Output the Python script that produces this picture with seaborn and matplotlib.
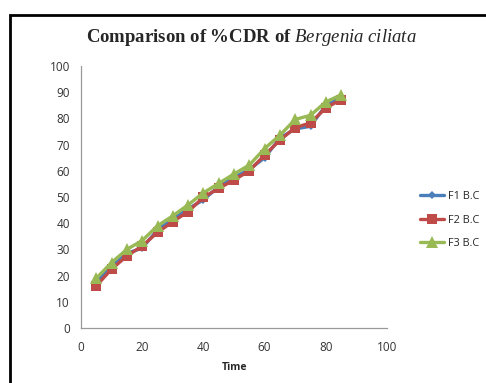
import pandas as pd
import matplotlib
matplotlib.use('Agg')
from matplotlib import pyplot as plt
from matplotlib.patches import Rectangle
import seaborn as sns

# 数据: 时间 与 三个配方的 %CDR
time = [5, 10, 15, 20, 25, 30, 35, 40, 45, 50, 55, 60, 65, 70, 75, 80, 85]
f1_bc = [17.5, 23.5, 28.5, 30.5, 37.5, 41.5, 45.5, 48.9, 54, 57.5, 60.5, 65, 72.5, 76, 77, 85, 88]
f2_bc = [16.1, 22.5, 27.5, 31.3, 36.5, 40.6, 44.4, 49.9, 53.3, 56.5, 60, 66, 71.7, 76.5, 78.3, 84, 87.2]
f3_bc = [19, 25, 30, 33.4, 39, 42.8, 47, 51.6, 55.2, 58.8, 62.2, 68.5, 73.6, 79.6, 81.2, 86.3, 89]
series_names = ['F1 B.C', 'F2 B.C', 'F3 B.C']

# 长表
df = pd.concat([
    pd.DataFrame({'Time': time, 'CDR': vals, 'series': name})
    for name, vals in zip(series_names, [f1_bc, f2_bc, f3_bc])
])

sns.set_style('white')
plt.rcParams['font.family'] = ['Open Sans', 'DejaVu Sans']
plt.rcParams['mathtext.fontset'] = 'custom'
plt.rcParams['mathtext.it'] = 'Liberation Serif:italic'
plt.rcParams['mathtext.rm'] = 'Liberation Serif'

fig = plt.figure(figsize=(4.86, 3.83), dpi=100)
ax = fig.add_axes([0.1667, 0.1436, 0.6296, 0.684])

palette = {'F1 B.C': '#4A7EBB', 'F2 B.C': '#BE4B48', 'F3 B.C': '#98B954'}
markers = {'F1 B.C': 'D', 'F2 B.C': 's', 'F3 B.C': '^'}
sizes = {'F1 B.C': 4.5, 'F2 B.C': 7.5, 'F3 B.C': 8.5}

for name in series_names:
    sns.lineplot(data=df[df['series'] == name], x='Time', y='CDR', ax=ax,
                 color=palette[name], marker=markers[name], markersize=sizes[name],
                 markeredgewidth=0, linewidth=2.4, label=name)

ax.set_xlim(0, 100)
ax.set_ylim(0, 100)
ax.set_xticks(range(0, 101, 20))
ax.set_yticks(range(0, 101, 10))
ax.tick_params(axis='both', length=0, labelsize=8.5, colors='#333333')
ax.tick_params(axis='y', pad=8)
ax.tick_params(axis='x', pad=9)
for s in ['top', 'right']:
    ax.spines[s].set_visible(False)
for s in ['left', 'bottom']:
    ax.spines[s].set_color('#9a9a9a')
    ax.spines[s].set_linewidth(0.9)
ax.set_xlabel('Time', fontsize=7.5, fontweight='bold', labelpad=6)
ax.set_ylabel('')

ax.legend_.remove()
handles, labels = ax.get_legend_handles_labels()
fig.legend(handles, labels, loc='center left', bbox_to_anchor=(0.845, 1 - 220 / 383),
           frameon=False, fontsize=7.8, handlelength=2.2, handletextpad=0.3,
           labelspacing=1.15)

fig.text(0.517, 1 - 37 / 383, r'Comparison of %CDR of $\mathit{Bergenia\ ciliata}$',
         ha='center', va='center', fontsize=13.5, fontweight='bold',
         family='Liberation Serif')

fig.patches.append(Rectangle((10 / 486, -0.1), 1.2, 1.1 - 15 / 383,
                             transform=fig.transFigure, fill=False,
                             edgecolor='black', linewidth=2))

fig.savefig('out.png', dpi=100)
